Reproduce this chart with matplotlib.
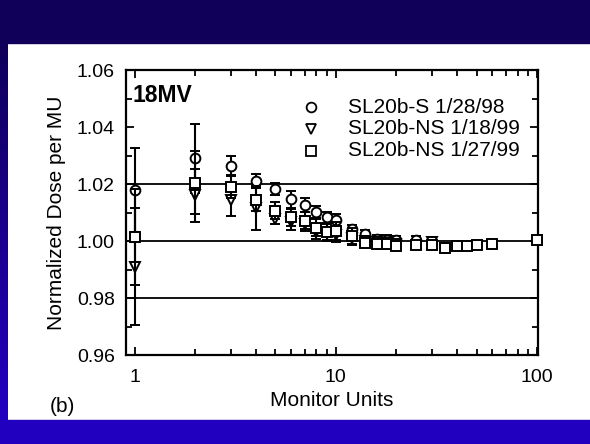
import matplotlib

matplotlib.use("Agg")  # no display
import matplotlib.pyplot as plt
from matplotlib.patches import Rectangle
from matplotlib.colors import LinearSegmentedColormap
from matplotlib.ticker import LogLocator, FixedLocator, NullFormatter
import numpy as np

plt.rcParams["font.family"] = ["Liberation Sans", "DejaVu Sans"]

# SL20b-S 1/28/98 (circles)
mu_s = [1, 2, 3, 4, 5, 6, 7, 8, 9, 10, 12, 14, 16, 18, 20, 25]
dose_s = [1.018, 1.029, 1.0262, 1.021, 1.0183, 1.0147, 1.0127, 1.0102, 1.0083, 1.0074,
          1.0041, 1.0024, 1.0006, 1.0005, 1.0004, 1.0003]
err_s = [0.0147, 0.012, 0.0035, 0.0025, 0.0022, 0.003, 0.0025, 0.002, 0.002, 0.002,
         0.0015, 0.0015, 0.0015, 0.0015, 0.0015, 0.0015]

# SL20b-NS 1/18/99 (down triangles)
mu_ns1 = [1, 2, 3, 4, 5, 6, 7, 8, 9, 10, 12, 14, 16, 18, 20, 30]
dose_ns1 = [0.991, 1.016, 1.0145, 1.0115, 1.0077, 1.0065, 1.006, 1.0032, 1.003, 1.002,
            1.001, 1.0, 0.9995, 0.9992, 0.999, 0.9995]
err_ns1 = [0.0205, 0.0093, 0.0057, 0.0077, 0.0018, 0.0026, 0.0025, 0.0025, 0.003, 0.0025,
           0.002, 0.0018, 0.0015, 0.0015, 0.0015, 0.002]

# SL20b-NS 1/27/99 (squares)
mu_ns2 = [1, 2, 3, 4, 5, 6, 7, 8, 9, 10, 12, 14, 16, 18, 20, 25, 30, 35, 40, 45, 50, 60, 100]
dose_ns2 = [1.0015, 1.0205, 1.019, 1.0145, 1.0106, 1.0083, 1.0071, 1.0047, 1.0032, 1.0035,
            1.0016, 0.9994, 0.9988, 0.9988, 0.9982, 0.9985, 0.9985, 0.9977, 0.9982, 0.9982,
            0.9985, 0.9988, 1.0005]
err_ns2 = [0.0168, 0.011, 0.004, 0.004, 0.003, 0.003, 0.003, 0.003, 0.003, 0.003,
           0.003, 0.0015, 0.0015, 0.0015, 0.0015, 0.0012, 0.0012, 0.001, 0.001, 0.001,
           0.001, 0.001, 0.001]

ref_lines = [0.98, 1.00, 1.02]
y_ticks = [0.96, 0.98, 1.00, 1.02, 1.04, 1.06]
x_ticks = [1, 10, 100]

fig = plt.figure(figsize=(5.9, 4.44), dpi=100)

# slide frame: dark top band, blue bottom band, left strip with gradient
fig.patches.append(Rectangle((0, 1 - 43 / 444), 1, 43 / 444, transform=fig.transFigure,
                             color="#10005a", zorder=0))
fig.patches.append(Rectangle((0, 0), 1, 24 / 444, transform=fig.transFigure,
                             color="#2200c0", zorder=0))
strip = fig.add_axes([0, 24 / 444, 8 / 590, (444 - 67) / 444])
cmap = LinearSegmentedColormap.from_list("strip", ["#10005a", "#2200c0"])
strip.imshow(np.linspace(0, 1, 100).reshape(-1, 1), aspect="auto", cmap=cmap)
strip.axis("off")

ax = fig.add_axes([126 / 590, 1 - 355 / 444, 412 / 590, 285 / 444])

for y in ref_lines:
    ax.axhline(y, color="black", lw=1.3, zorder=1)

style = dict(ls="none", mfc="white", mec="black", mew=1.4, ms=7,
             ecolor="black", elinewidth=1.5, capsize=3.5, capthick=1.5)
ax.errorbar(mu_s, dose_s, yerr=err_s, marker="o", zorder=3, **style)
ax.errorbar(mu_ns1, dose_ns1, yerr=err_ns1, marker="v", zorder=4, **style)
sq = ax.errorbar(mu_ns2, dose_ns2, yerr=err_ns2, marker="s", zorder=5, **style)
# the 100 MU point sits on the right spine, keep it whole
for art in sq.get_children():
    art.set_clip_on(False)

ax.set_xscale("log")
ax.set_xlim(0.907, 101)
ax.set_ylim(0.96, 1.06)
ax.xaxis.set_major_locator(FixedLocator(x_ticks))
ax.set_xticklabels([str(t) for t in x_ticks])
ax.xaxis.set_minor_locator(LogLocator(base=10, subs=np.arange(2, 10)))
ax.xaxis.set_minor_formatter(NullFormatter())
ax.set_yticks(y_ticks)
ax.set_yticklabels([f"{t:.2f}" for t in y_ticks])
ax.yaxis.set_minor_locator(FixedLocator([0.97, 0.99, 1.01, 1.03, 1.05]))
ax.tick_params(which="both", direction="in", top=True, right=True, width=1.3,
               labelsize=14)
ax.tick_params(axis="x", which="both", pad=10)
ax.tick_params(axis="y", which="both", pad=8)
ax.tick_params(which="major", length=6)
ax.tick_params(which="minor", length=4)
for sp in ax.spines.values():
    sp.set_linewidth(1.6)

ax.set_xlabel("Monitor Units", fontsize=15, labelpad=4)
ax.set_ylabel("Normalized Dose per MU", fontsize=15, labelpad=8)

ax.text(0.015, 0.95, "18MV", transform=ax.transAxes, fontsize=16.5, fontweight="bold",
        va="top", ha="left")

# legend drawn as in the original figure
leg_labels = ["SL20b-S 1/28/98", "SL20b-NS 1/18/99", "SL20b-NS 1/27/99"]
leg_markers = ["o", "v", "s"]
for i, (lab, mk) in enumerate(zip(leg_labels, leg_markers)):
    yy = 0.87 - i * 0.077
    ax.plot([0.45], [yy], marker=mk, transform=ax.transAxes, ls="none",
            mfc="white", mec="black", mew=1.3, ms=7, zorder=6)
    ax.text(0.54, yy, lab, transform=ax.transAxes, fontsize=15, va="center", ha="left")

fig.text(50 / 590, 1 - 406 / 444, "(b)", fontsize=15, va="center", ha="left")

fig.savefig("out.png", dpi=100, facecolor="white")
